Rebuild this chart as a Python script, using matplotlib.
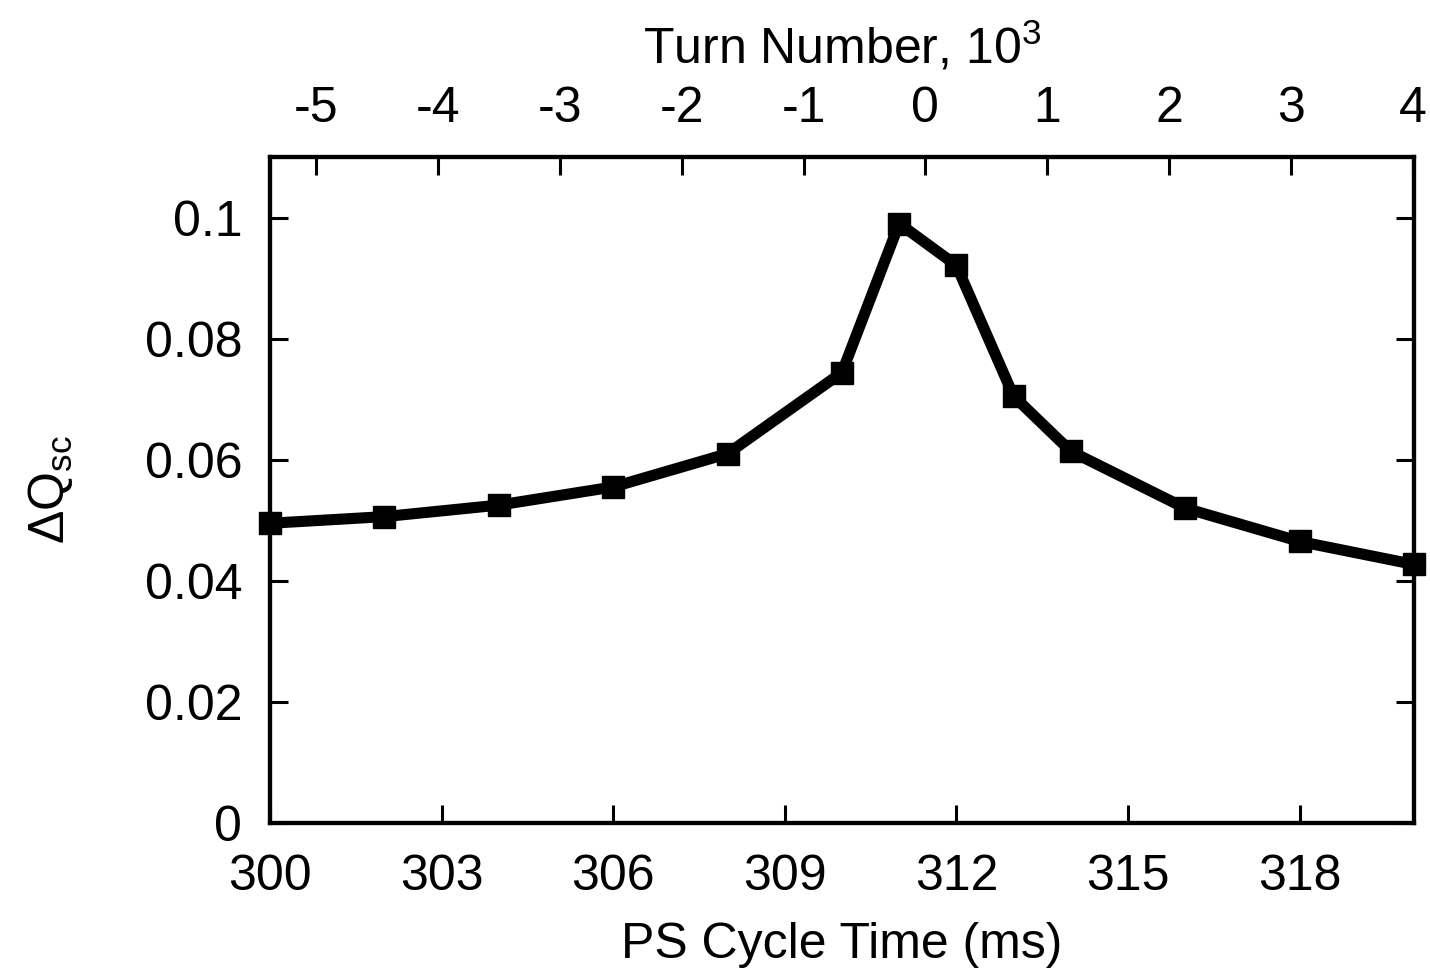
import numpy as np
import matplotlib
matplotlib.use('Agg')
import matplotlib.pyplot as plt
from matplotlib.ticker import FormatStrFormatter

plt.rcParams['font.family'] = ['Liberation Sans', 'DejaVu Sans']
plt.rcParams['mathtext.fontset'] = 'custom'
plt.rcParams['mathtext.rm'] = 'Liberation Sans'
plt.rcParams['axes.unicode_minus'] = False
plt.rcParams['font.size'] = 36

# PS cycle time (ms) and space-charge tune shift
t_ms = [300, 302, 304, 306, 308, 310, 311, 312, 313, 314, 316, 318, 320]
dq_sc = [0.0495, 0.0506, 0.0525, 0.0555, 0.0610, 0.0744, 0.0990, 0.0921,
         0.0705, 0.0614, 0.0520, 0.0465, 0.0427]

x_ticks = [300, 303, 306, 309, 312, 315, 318]
y_ticks = [0, 0.02, 0.04, 0.06, 0.08, 0.1]
turn_ticks = [-5, -4, -3, -2, -1, 0, 1, 2, 3, 4]

# turn number axis: zero at ~311.46 ms, 1000 turns ~2.13 ms
t0 = 311.458
ms_per_kturn = 2.1305

fig = plt.figure(figsize=(14.3, 9.72), dpi=100)
ax = fig.add_axes([0.1888, 0.1533, 0.8000, 0.6852])

ax.plot(t_ms, dq_sc, color='black', lw=8, marker='s', ms=16,
        solid_joinstyle='miter', clip_on=False, zorder=5)

ax.set_xlim(300, 320)
ax.set_ylim(0, 0.11)
ax.set_xticks(x_ticks)
ax.set_yticks(y_ticks)
ax.yaxis.set_major_formatter(FormatStrFormatter('%g'))
ax.tick_params(axis='both', direction='in', length=13, width=2.2,
               right=True, top=False)
ax.tick_params(axis='x', pad=22)
ax.tick_params(axis='y', pad=20)
for s in ax.spines.values():
    s.set_linewidth(3)

ax.set_xlabel('PS Cycle Time (ms)', labelpad=16)
ax.set_ylabel(r'$\Delta$Q$_{\rm sc}$', labelpad=50)

ax2 = ax.twiny()
ax2.set_xlim((300 - t0) / ms_per_kturn, (320 - t0) / ms_per_kturn)
ax2.set_xticks(turn_ticks)
ax2.tick_params(axis='x', direction='in', length=13, width=2.2, pad=18)
ax2.set_xlabel(r'Turn Number, 10$^3$', labelpad=16)
for s in ax2.spines.values():
    s.set_linewidth(3)

plt.savefig('out.png', dpi=100)
